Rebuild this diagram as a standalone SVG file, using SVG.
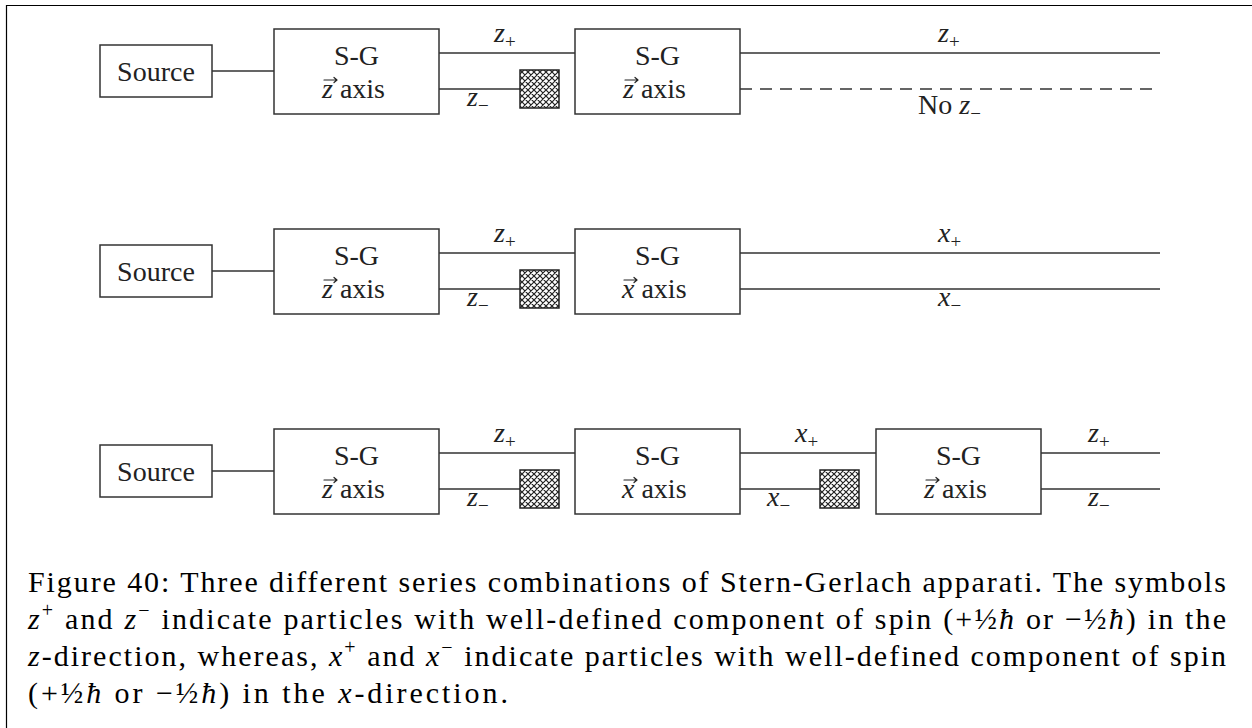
<svg xmlns="http://www.w3.org/2000/svg" width="1252" height="728" viewBox="0 0 1252 728">
<style>
.bx{fill:#fff;stroke:#333;stroke-width:1.5}
.ln{stroke:#333;stroke-width:1.5;fill:none}
.ds{stroke:#333;stroke-width:1.5;fill:none;stroke-dasharray:12 8}
.vec{stroke:#222;stroke-width:1.2;fill:none;stroke-linecap:round;stroke-linejoin:round}
.t{font-family:"Liberation Serif","DejaVu Serif",serif;font-size:28px;fill:#222}
.m{font-family:"Liberation Serif","DejaVu Serif",serif;font-size:28px;fill:#222;font-style:italic}
.up{font-style:normal}
.sub{font-size:19px;font-style:normal}
.cap{font-family:"Liberation Serif","DejaVu Serif",serif;font-size:30px;fill:#000}
.it{font-style:italic}
.sup{font-size:20px}
.bl{fill:url(#hatch);stroke:#222;stroke-width:1.5}
</style>
<defs>
<pattern id="hatch" width="6" height="6" patternUnits="userSpaceOnUse">
<rect width="6" height="6" fill="#fff"/>
<path d="M0,0 L6,6 M6,0 L0,6 M-1,5 L1,7 M5,-1 L7,1 M-1,1 L1,-1 M5,7 L7,5" stroke="#222" stroke-width="1.2"/>
</pattern>
</defs>
<rect width="1252" height="728" fill="#fff"/>
<path d="M6.5,728 L6.5,5.5 L1252,5.5" stroke="#000" stroke-width="1.2" fill="none"/>

<g id="connectors">
<path class="ln" d="M212,71 H274 M439,53 H575 M439,89 H520 M740,53 H1160"/>
<path class="ds" d="M740,89 H1160"/>
<path class="ln" d="M212,271 H274 M439,253 H575 M439,289 H520 M740,253 H1160 M740,289 H1160"/>
<path class="ln" d="M212,471 H274 M439,453 H575 M439,489 H520 M740,453 H876 M740,489 H820 M1041,453 H1160 M1041,489 H1160"/>
</g>

<g id="row1">
<g id="src1"><rect class="bx" x="100" y="45" width="112" height="52"/><text class="t" x="156" y="81" text-anchor="middle">Source</text></g>
<g id="sg1a"><rect class="bx" x="274" y="29" width="165" height="85"/><text class="t" x="356.5" y="65" text-anchor="middle">S-G</text><text class="m" x="322" y="98">z<tspan class="up"> axis</tspan></text><path class="vec" d="M324,80 H337 M334,77.5 L337,80 L334,82.5"/></g>
<g id="blk1"><rect class="bl" x="520" y="70" width="39" height="38"/></g>
<g id="sg1b"><rect class="bx" x="575" y="29" width="165" height="85"/><text class="t" x="657.5" y="65" text-anchor="middle">S-G</text><text class="m" x="623" y="98">z<tspan class="up"> axis</tspan></text><path class="vec" d="M625,80 H638 M635,77.5 L638,80 L635,82.5"/></g>
<text class="m" x="494" y="42">z<tspan class="sub" dy="6">+</tspan></text>
<text class="m" x="467" y="106">z<tspan class="sub" dy="6">−</tspan></text>
<text class="m" x="938" y="42">z<tspan class="sub" dy="6">+</tspan></text>
<text class="t" x="918" y="114">No <tspan class="it">z</tspan><tspan class="sub" dy="6">−</tspan></text>
</g>

<g id="row2">
<g id="src2"><rect class="bx" x="100" y="245" width="112" height="52"/><text class="t" x="156" y="281" text-anchor="middle">Source</text></g>
<g id="sg2a"><rect class="bx" x="274" y="229" width="165" height="85"/><text class="t" x="356.5" y="265" text-anchor="middle">S-G</text><text class="m" x="322" y="298">z<tspan class="up"> axis</tspan></text><path class="vec" d="M324,280 H337 M334,277.5 L337,280 L334,282.5"/></g>
<g id="blk2"><rect class="bl" x="520" y="270" width="39" height="38"/></g>
<g id="sg2b"><rect class="bx" x="575" y="229" width="165" height="85"/><text class="t" x="657.5" y="265" text-anchor="middle">S-G</text><text class="m" x="622" y="298">x<tspan class="up"> axis</tspan></text><path class="vec" d="M624,280 H637 M634,277.5 L637,280 L634,282.5"/></g>
<text class="m" x="494" y="242">z<tspan class="sub" dy="6">+</tspan></text>
<text class="m" x="467" y="306">z<tspan class="sub" dy="6">−</tspan></text>
<text class="m" x="938" y="242">x<tspan class="sub" dy="6">+</tspan></text>
<text class="m" x="938" y="306">x<tspan class="sub" dy="6">−</tspan></text>
</g>

<g id="row3">
<g id="src3"><rect class="bx" x="100" y="445" width="112" height="52"/><text class="t" x="156" y="481" text-anchor="middle">Source</text></g>
<g id="sg3a"><rect class="bx" x="274" y="429" width="165" height="85"/><text class="t" x="356.5" y="465" text-anchor="middle">S-G</text><text class="m" x="322" y="498">z<tspan class="up"> axis</tspan></text><path class="vec" d="M324,480 H337 M334,477.5 L337,480 L334,482.5"/></g>
<g id="blk3a"><rect class="bl" x="520" y="470" width="39" height="38"/></g>
<g id="sg3b"><rect class="bx" x="575" y="429" width="165" height="85"/><text class="t" x="657.5" y="465" text-anchor="middle">S-G</text><text class="m" x="622" y="498">x<tspan class="up"> axis</tspan></text><path class="vec" d="M624,480 H637 M634,477.5 L637,480 L634,482.5"/></g>
<g id="blk3b"><rect class="bl" x="820" y="470" width="39" height="38"/></g>
<g id="sg3c"><rect class="bx" x="876" y="429" width="165" height="85"/><text class="t" x="958.5" y="465" text-anchor="middle">S-G</text><text class="m" x="924" y="498">z<tspan class="up"> axis</tspan></text><path class="vec" d="M926,480 H939 M936,477.5 L939,480 L936,482.5"/></g>
<text class="m" x="494" y="442">z<tspan class="sub" dy="6">+</tspan></text>
<text class="m" x="467" y="506">z<tspan class="sub" dy="6">−</tspan></text>
<text class="m" x="795" y="442">x<tspan class="sub" dy="6">+</tspan></text>
<text class="m" x="767" y="506">x<tspan class="sub" dy="6">−</tspan></text>
<text class="m" x="1088" y="442">z<tspan class="sub" dy="6">+</tspan></text>
<text class="m" x="1088" y="506">z<tspan class="sub" dy="6">−</tspan></text>
</g>

<g id="caption">
<text class="cap" x="28" y="592" textLength="1198" lengthAdjust="spacing">Figure 40: Three different series combinations of Stern-Gerlach apparati. The symbols</text>
<text class="cap" x="28" y="629" textLength="1198" lengthAdjust="spacing"><tspan class="it">z</tspan><tspan class="sup" dy="-12">+</tspan><tspan dy="12"> and </tspan><tspan class="it">z</tspan><tspan class="sup" dy="-12">−</tspan><tspan dy="12"> indicate particles with well-defined component of spin (+½</tspan><tspan class="it">ħ</tspan> or −½<tspan class="it">ħ</tspan>) in the</text>
<text class="cap" x="28" y="666" textLength="1198" lengthAdjust="spacing"><tspan class="it">z</tspan>-direction, whereas, <tspan class="it">x</tspan><tspan class="sup" dy="-12">+</tspan><tspan dy="12"> and </tspan><tspan class="it">x</tspan><tspan class="sup" dy="-12">−</tspan><tspan dy="12"> indicate particles with well-defined component of spin</tspan></text>
<text class="cap" x="28" y="703" textLength="480" lengthAdjust="spacing">(+½<tspan class="it">ħ</tspan> or −½<tspan class="it">ħ</tspan>) in the <tspan class="it">x</tspan>-direction.</text>
</g>
</svg>
